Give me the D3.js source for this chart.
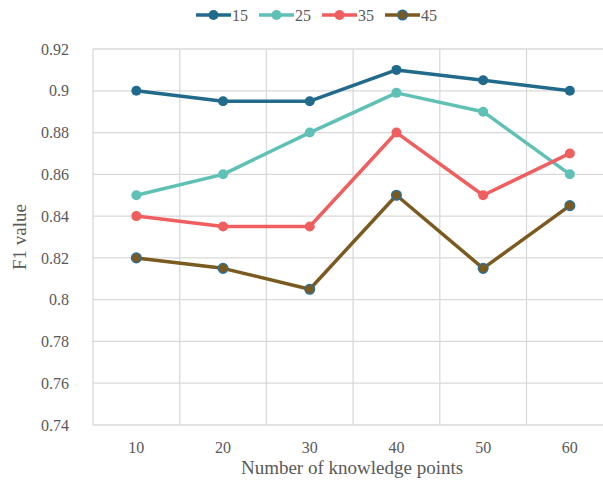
<!DOCTYPE html>
<html><head><meta charset="utf-8">
<script src="https://cdn.jsdelivr.net/npm/d3@7"></script>
<style>body{margin:0;background:#fff;overflow:hidden}svg{display:block}</style>
</head><body><svg id="c" width="603" height="485"></svg>
<script>
const categories = [10, 20, 30, 40, 50, 60];
const seriesNames = ["15", "25", "35", "45"];
const s15 = [0.90, 0.895, 0.895, 0.91, 0.905, 0.90];
const s25 = [0.85, 0.86, 0.88, 0.899, 0.89, 0.86];
const s35 = [0.84, 0.835, 0.835, 0.88, 0.85, 0.87];
const s45 = [0.82, 0.815, 0.805, 0.85, 0.815, 0.845];
const yTicks = [0.74, 0.76, 0.78, 0.8, 0.82, 0.84, 0.86, 0.88, 0.9, 0.92];
const colors = ["#216a8c", "#5fc1b5", "#ef5f5f", "#7b5a1f"];
const markerStroke = [null, null, null, "#2a6f96"];
const values = [s15, s25, s35, s45];

(function () {
const svg = d3.select("#c");
const font = "'Liberation Serif','Times New Roman',serif";
const pLeft = 93, pTop = 49, pBottom = 425, bandW = 86.7;
const x = d3.scaleBand().domain(categories).range([pLeft, pLeft + bandW * categories.length]);
const y = d3.scaleLinear().domain([0.74, 0.92]).range([pBottom, pTop]);

const grid = svg.append("g");
yTicks.forEach(t => grid.append("line").attr("x1", pLeft).attr("x2", 603)
  .attr("y1", y(t)).attr("y2", y(t)).attr("stroke", "#d9d9d9").attr("stroke-width", 1.3));
categories.forEach(c => grid.append("line").attr("x1", x(c)).attr("x2", x(c))
  .attr("y1", pTop).attr("y2", pBottom).attr("stroke", "#d9d9d9").attr("stroke-width", 1.3));

const yAxis = d3.axisLeft(y).tickValues(yTicks).tickSize(0).tickPadding(24).tickFormat(d => String(+d.toFixed(2)));
const ya = svg.append("g").attr("transform", `translate(${pLeft},0)`).call(yAxis);
ya.attr("font-family", font);
ya.select(".domain").remove();
ya.selectAll("text").style("font-family", font).attr("font-size", 16).attr("fill", "#595959");

const xAxis = d3.axisBottom(x).tickSize(0).tickPadding(17);
const xa = svg.append("g").attr("transform", `translate(0,${pBottom})`).call(xAxis);
xa.attr("font-family", font);
xa.select(".domain").remove();
xa.selectAll("text").style("font-family", font).attr("font-size", 16).attr("fill", "#595959");

svg.append("text").attr("x", 352).attr("y", 474).attr("text-anchor", "middle")
  .style("font-family", font).attr("font-size", 19).attr("fill", "#595959").text("Number of knowledge points");
svg.append("text").attr("transform", "translate(26,237) rotate(-90)").attr("text-anchor", "middle")
  .style("font-family", font).attr("font-size", 19).attr("fill", "#595959").text("F1 value");

const cx = c => x(c) + x.bandwidth() / 2;
const line = d3.line().x((d, i) => cx(categories[i])).y(d => y(d));
values.forEach((vals, k) => {
  const g = svg.append("g");
  g.append("path").datum(vals).attr("d", line).attr("fill", "none")
    .attr("stroke", colors[k]).attr("stroke-width", 3.5).attr("stroke-linejoin", "round");
  g.selectAll("circle").data(vals).join("circle")
    .attr("cx", (d, i) => cx(categories[i])).attr("cy", d => y(d)).attr("r", markerStroke[k] ? 4.8 : 5)
    .attr("fill", colors[k]).attr("stroke", markerStroke[k] || "none").attr("stroke-width", 1.5);
});

const legX = [196, 259, 322, 385];
const leg = svg.append("g");
seriesNames.forEach((n, k) => {
  const lx = legX[k], ly = 15;
  leg.append("line").attr("x1", lx).attr("x2", lx + 35).attr("y1", ly).attr("y2", ly)
    .attr("stroke", colors[k]).attr("stroke-width", 3.5);
  leg.append("circle").attr("cx", lx + 17.5).attr("cy", ly).attr("r", markerStroke[k] ? 4.8 : 5)
    .attr("fill", colors[k]).attr("stroke", markerStroke[k] || "none").attr("stroke-width", 1.5);
  leg.append("text").attr("x", lx + 36).attr("y", ly + 5.5).style("font-family", font)
    .attr("font-size", 16).attr("fill", "#595959").text(n);
});
})();
</script></body></html>
